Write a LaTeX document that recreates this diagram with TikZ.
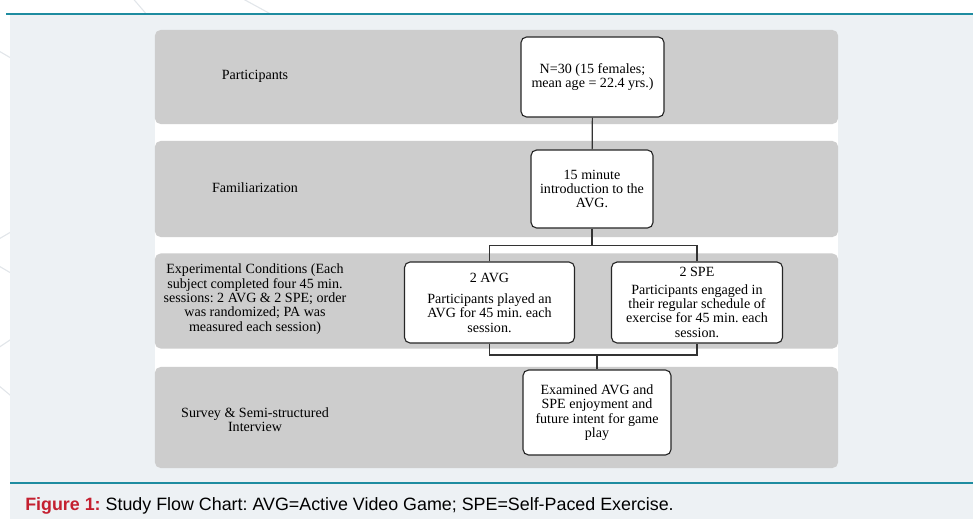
\documentclass[tikz,border=0pt]{standalone}
\usepackage{fontspec}
\setmainfont{Liberation Serif}
\newfontfamily\capfont{Liberation Sans}
\usetikzlibrary{positioning}
\frenchspacing
\definecolor{panelgrey}{RGB}{237,241,244}
\definecolor{bandgrey}{RGB}{205,205,205}
\definecolor{ruleteal}{RGB}{30,140,160}
\definecolor{capred}{RGB}{196,32,48}
\definecolor{netgrey}{RGB}{226,230,234}

\begin{document}
\begin{tikzpicture}[
  x=0.025cm,y=-0.025cm,
  band/.style ={fill=bandgrey,rounded corners=4pt,minimum width=17.075cm,
                minimum height=#1,inner sep=0pt},
  stage/.style={draw=black!85,line width=0.8pt,fill=white,rounded corners=4pt,
                align=center,inner sep=1pt,font=\fontsize{10}{10.2}\selectfont},
  lbl/.style  ={align=center,font=\fontsize{10}{10.2}\selectfont},
  link/.style ={line width=0.8pt,draw=black!80},
]
\clip (0,0) rectangle (973,519);
% faint network lines behind the page
\draw[netgrey,line width=0.8pt] (100,-40) -- (160,30) (190,-30) -- (300,30)
  (-20,40) -- (40,75) (-20,250) -- (40,215) (-20,255) -- (40,290)
  (-20,360) -- (40,320) (-20,370) -- (40,420);
% page panel and rules
\fill[panelgrey] (10,14) rectangle (973,519);
\draw[ruleteal,line width=1pt] (6,14) -- (973,14);
\draw[ruleteal,line width=1pt] (10,483) -- (973,483);
\fill[white] (155,118) rectangle (838,372);

% stage bands
\node[band=2.35cm]  (b1) at (496.5,77)   {};
\node[band=2.4cm]   (b2) at (496.5,189)  {};
\node[band=2.375cm] (b3) at (496.5,301)  {};
\node[band=2.525cm] (b4) at (496.5,417.5){};

% stage names
\node[lbl] (plab) at (255,76)  {Participants};
\node[lbl] (flab) at (255,188) {Familiarization};
\node[lbl] (elab) at (255,299) {Experimental Conditions (Each\\
  subject completed four 45 min.\\ sessions: 2 AVG \& 2 SPE; order\\
  was randomized; PA was\\ measured each session)};
\node[lbl] (slab) at (255,420) {Survey \& Semi-structured\\ Interview};

% flow boxes
\node[stage,minimum width=3.575cm,minimum height=2cm] (part) at (592.5,77)
  {N=30 (15 females;\\ mean age = 22.4 yrs.)};
\node[stage,minimum width=3.05cm,minimum height=1.95cm] (fam) at (592,189)
  {15 minute\\ introduction to the\\ AVG.};
\node[stage,minimum width=4.25cm,minimum height=2.025cm] (avg) at (489.5,302.5)
  {2 AVG\\[5pt] Participants played an\\ AVG for 45 min. each\\ session.};
\node[stage,minimum width=4.275cm,minimum height=2.025cm] (spe) at (697,302.5)
  {2 SPE\\[2pt] Participants engaged in\\ their regular schedule of\\
   exercise for 45 min. each\\ session.};
\node[stage,minimum width=3.7cm,minimum height=2.125cm] (exam) at (597,412.5)
  {Examined AVG and\\ SPE enjoyment and\\ future intent for game\\ play};

% connectors
\coordinate (split) at (592,245.5);
\coordinate (merge) at (597,355);
\draw[link] (part) -- (fam);
\draw[link] (fam) -- (split);
\draw[link] (avg.north) |- (split) -| (spe.north);
\draw[link] (avg.south) |- (merge) -| (spe.south);
\draw[link] (merge) -- (exam);

% caption
\node[anchor=west,inner sep=0pt,font=\capfont\fontsize{12.7}{14}\selectfont] (cap) at (25,506)
  {\textcolor{capred}{\textbf{Figure 1:}} Study Flow Chart: AVG=Active Video Game; SPE=Self-Paced Exercise.};
\end{tikzpicture}
\end{document}
